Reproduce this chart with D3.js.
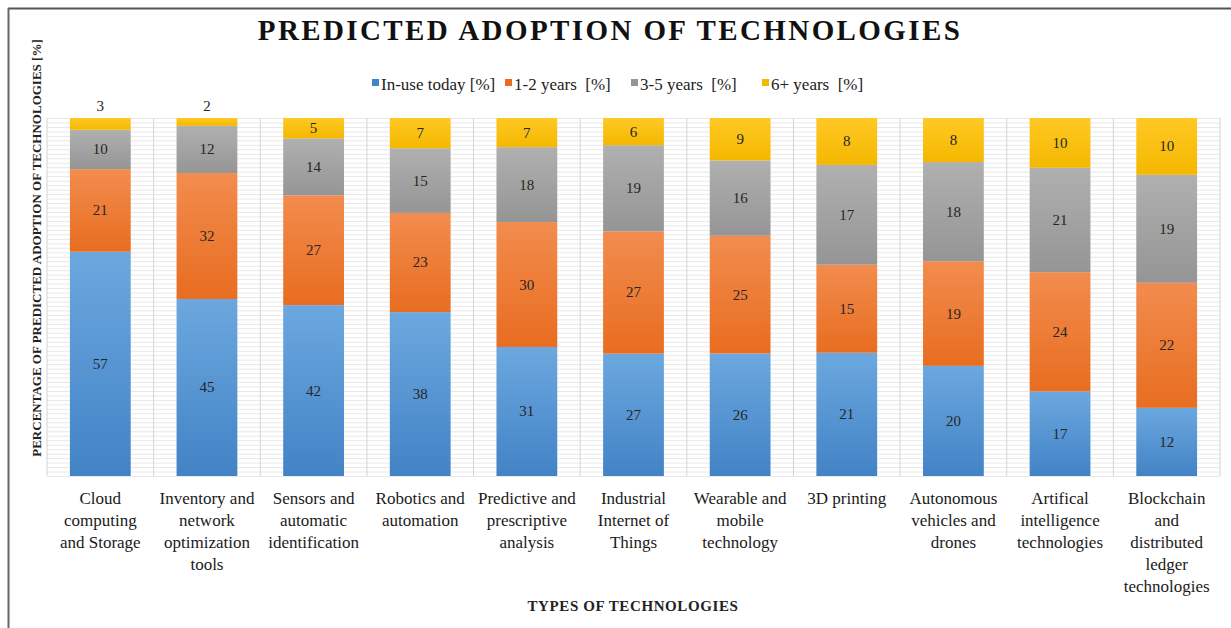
<!DOCTYPE html>
<html>
<head>
<meta charset="utf-8">
<script src="https://cdn.jsdelivr.net/npm/d3@7"></script>
<style>
  body { margin: 0; background: #fff; }
  text { font-family: "Liberation Serif", "DejaVu Serif", serif; }
</style>
</head>
<body>
<div id="chart"></div>
<script>
// data
const categories = [
  "Cloud computing and Storage",
  "Inventory and network optimization tools",
  "Sensors and automatic identification",
  "Robotics and automation",
  "Predictive and prescriptive analysis",
  "Industrial Internet of Things",
  "Wearable and mobile technology",
  "3D printing",
  "Autonomous vehicles and drones",
  "Artifical intelligence technologies",
  "Blockchain and distributed ledger technologies"
];
// how labels wrap in the reference
const labelLines = [
  ["Cloud", "computing", "and Storage"],
  ["Inventory and", "network", "optimization", "tools"],
  ["Sensors and", "automatic", "identification"],
  ["Robotics and", "automation"],
  ["Predictive and", "prescriptive", "analysis"],
  ["Industrial", "Internet of", "Things"],
  ["Wearable and", "mobile", "technology"],
  ["3D printing"],
  ["Autonomous", "vehicles and", "drones"],
  ["Artifical", "intelligence", "technologies"],
  ["Blockchain", "and", "distributed", "ledger", "technologies"]
];
const seriesNames = ["In-use today [%]", "1-2 years  [%]", "3-5 years  [%]", "6+ years  [%]"];
const inUse   = [57, 45, 42, 38, 31, 27, 26, 21, 20, 17, 12];
const years12 = [21, 32, 27, 23, 30, 27, 25, 15, 19, 24, 22];
const years35 = [10, 12, 14, 15, 18, 19, 16, 17, 18, 21, 19];
const years6  = [3, 2, 5, 7, 7, 6, 9, 8, 8, 10, 10];

//color pallete (top, bottom of gradient)
const colors = [
  ["#6ca8df", "#4283c6"],
  ["#f28c4e", "#e86d20"],
  ["#b0b0b0", "#959595"],
  ["#ffc824", "#f5b800"]
];

const W = 1231, H = 628;
const svg = d3.select("#chart").append("svg")
  .attr("width", W)
  .attr("height", H);

const rows = categories.map((c, i) => ({
  cat: c, s0: inUse[i], s1: years12[i], s2: years35[i], s3: years6[i]
}));
const keys = ["s0", "s1", "s2", "s3"];
const stacked = d3.stack().keys(keys).offset(d3.stackOffsetExpand)(rows);

const x = d3.scaleBand().domain(categories).range([47, 1220]).paddingInner(0.43).paddingOuter(0.215);
const xb = d3.scaleBand().domain(categories).range([47, 1220]); // full slots for the grid
const y = d3.scaleLinear().domain([0, 1]).range([476, 118]);

// gradients
const defs = svg.append("defs");
colors.forEach((c, i) => {
  const g = defs.append("linearGradient").attr("id", "grad" + i)
    .attr("x1", 0).attr("y1", 0).attr("x2", 0).attr("y2", 1);
  g.append("stop").attr("offset", "0%").attr("stop-color", c[0]);
  g.append("stop").attr("offset", "100%").attr("stop-color", c[1]);
});

// frame
svg.append("line").attr("x1", 8).attr("x2", W).attr("y1", 8.5).attr("y2", 8.5)
  .attr("stroke", "#555").attr("stroke-width", 2);
svg.append("line").attr("x1", 8.5).attr("x2", 8.5).attr("y1", 8).attr("y2", H)
  .attr("stroke", "#666").attr("stroke-width", 2);

// grid
const grid = svg.append("g");
grid.selectAll("line.h")
  .data(d3.range(0, 100.01, 1.25))
  .enter().append("line")
  .attr("x1", 47).attr("x2", 1220)
  .attr("y1", d => y(d / 100) + 0.5).attr("y2", d => y(d / 100) + 0.5)
  .attr("stroke", "#e8e8e8").attr("stroke-width", 1);
grid.selectAll("line.v")
  .data(categories.concat(["end"]))
  .enter().append("line")
  .attr("x1", (d, i) => i < categories.length ? xb(d) : 1220)
  .attr("x2", (d, i) => i < categories.length ? xb(d) : 1220)
  .attr("y1", 118).attr("y2", 476)
  .attr("stroke", "#d4d4d4").attr("stroke-width", 1);

// bars
const layers = svg.append("g").selectAll("g")
  .data(stacked)
  .enter().append("g")
  .attr("fill", (d, i) => "url(#grad" + i + ")");

layers.selectAll("rect")
  .data(d => d)
  .enter().append("rect")
  .attr("x", d => x(d.data.cat))
  .attr("y", d => y(d[1]))
  .attr("width", x.bandwidth())
  .attr("height", d => y(d[0]) - y(d[1]));

// value labels
stacked.forEach((layer, li) => {
  svg.append("g").selectAll("text")
    .data(layer)
    .enter().append("text")
    .attr("x", d => x(d.data.cat) + x.bandwidth() / 2)
    .attr("y", d => {
      const h = y(d[0]) - y(d[1]);
      return h < 15 ? y(d[1]) - 7 : (y(d[0]) + y(d[1])) / 2 + 5;
    })
    .attr("text-anchor", "middle")
    .attr("font-size", "15px")
    .attr("fill", "#262626")
    .text(d => d.data[keys[li]]);
});

// category labels
const xl = svg.append("g");
categories.forEach((c, i) => {
  const t = xl.append("text")
    .attr("x", x(c) + x.bandwidth() / 2)
    .attr("y", 504)
    .attr("text-anchor", "middle")
    .attr("font-size", "17px")
    .attr("fill", "#1a1a1a");
  labelLines[i].forEach((ln, k) => {
    t.append("tspan").attr("x", x(c) + x.bandwidth() / 2)
      .attr("dy", k === 0 ? 0 : 22).text(ln);
  });
});

// title
svg.append("text")
  .attr("x", 610).attr("y", 40)
  .attr("text-anchor", "middle")
  .attr("font-size", "29px").attr("font-weight", "bold")
  .attr("letter-spacing", "2.4px")
  .attr("fill", "#111")
  .text("PREDICTED ADOPTION OF TECHNOLOGIES");

// axis titles
svg.append("text")
  .attr("transform", "translate(41,248) rotate(-90)")
  .attr("text-anchor", "middle")
  .attr("font-size", "13px").attr("font-weight", "bold")
  .attr("fill", "#222")
  .text("PERCENTAGE OF PREDICTED ADOPTION OF TECHNOLOGIES [%]");

svg.append("text")
  .attr("x", 633).attr("y", 611)
  .attr("text-anchor", "middle")
  .attr("font-size", "15px").attr("font-weight", "bold")
  .attr("letter-spacing", "0.6px")
  .attr("fill", "#222")
  .text("TYPES OF TECHNOLOGIES");

// legend
const legendX = [372, 505, 631, 762];
const legend = svg.append("g").selectAll("g")
  .data(seriesNames)
  .enter().append("g")
  .attr("transform", (d, i) => "translate(" + legendX[i] + ",85)");
legend.append("rect")
  .attr("x", 0).attr("y", -6).attr("width", 7).attr("height", 7)
  .attr("fill", (d, i) => colors[i][1]);
legend.append("text")
  .attr("x", 9).attr("y", 5)
  .attr("font-size", "17px")
  .attr("fill", "#222")
  .style("white-space", "pre")
  .text(d => d);
</script>
</body>
</html>
